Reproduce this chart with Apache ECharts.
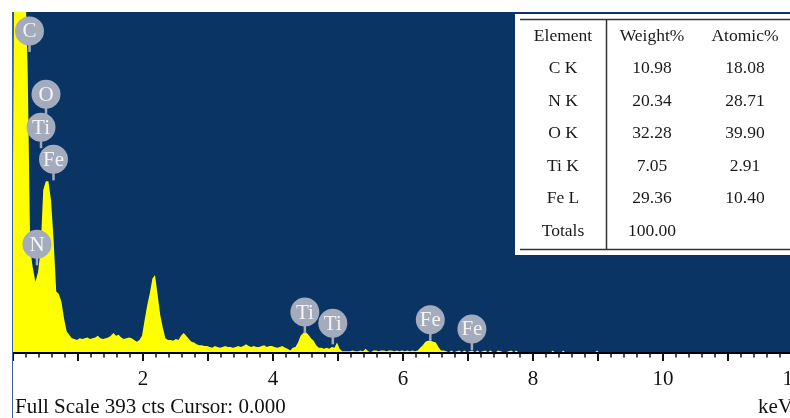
<!DOCTYPE html>
<html>
<head>
<meta charset="utf-8">
<script src="https://cdn.jsdelivr.net/npm/echarts@6/dist/echarts.min.js"></script>
<style>
  html, body { margin: 0; padding: 0; background: #fff; }
  #chart { width: 790px; height: 418px; }
</style>
</head>
<body>
<div id="chart"></div>
<script>
// EDS spectrum: counts per 0.04 keV channel, first channel at -0.015 keV
const channelStart = -0.015;
const channelWidth = 0.04;
const counts = [
  0, 560, 820, 940, 760, 440, 330, 120, 98, 82,
  93, 119, 188, 198, 198, 176, 130, 71, 68, 59,
  40, 25, 21, 17, 16, 15, 17, 16, 17, 18,
  16, 17, 18, 20, 17, 16, 17, 18, 20, 23,
  20, 21, 18, 16, 17, 18, 17, 15, 13, 15,
  20, 38, 55, 69, 86, 90, 67, 44, 29, 17,
  15, 15, 14, 16, 15, 20, 23, 20, 16, 13,
  12, 10, 9, 9, 8, 8, 7, 6, 8, 7,
  6, 7, 8, 7, 7, 6, 7, 8, 7, 8,
  10, 8, 7, 8, 7, 7, 8, 9, 7, 8,
  8, 7, 6, 7, 8, 6, 5, 3, 6, 7,
  12, 20, 23, 24, 21, 17, 14, 9, 6, 6,
  5, 6, 5, 7, 6, 12, 5, 2, 2, 2,
  2, 3, 2, 2, 3, 2, 5, 2, 1, 3,
  3, 2, 3, 3, 2, 3, 3, 2, 3, 2,
  3, 2, 3, 2, 3, 2, 3, 6, 9, 13,
  14, 14, 13, 12, 7, 3, 3, 2, 1, 3,
  1, 2, 3, 1, 3, 1, 2, 3, 1, 3,
  1, 2, 3, 1, 3, 1, 1, 3, 2, 1,
  1, 2, 3, 1, 3, 0, 0, 0, 0, 0,
  0, 0, 0, 0, 0, 0, 0, 0, 3, 0,
  0, 0, 3, 0, 0, 0, 0, 0, 0, 0,
  0, 0, 0, 0, 0, 3, 0, 0, 0, 0,
  0
];
const fullScale = 393;

// Element line markers: energy (keV), marker foot height (counts), symbol
const markerEnergy = [0.254, 0.508, 0.431, 0.623, 0.369, 4.49, 4.92, 6.42, 7.06];
const markerHeight = [347, 274, 236, 199, 101, 23, 10, 14, 3.5];
const markerLabel  = ['C', 'O', 'Ti', 'Fe', 'N', 'Ti', 'Ti', 'Fe', 'Fe'];

// Axis labels
const labelledTicks = [2, 4, 6, 8, 10, 12];
const footerText = 'Full Scale 393 cts Cursor: 0.000';
const unitText = 'keV';

// Quantification table
const tableHeader = ['Element', 'Weight%', 'Atomic%'];
const tableElement = ['C K', 'N K', 'O K', 'Ti K', 'Fe L', 'Totals'];
const tableWeight = ['10.98', '20.34', '32.28', '7.05', '29.36', '100.00'];
const tableAtomic = ['18.08', '28.71', '39.90', '2.91', '10.40', ''];

const serif = '"Liberation Serif", "DejaVu Serif", serif';
const markerColor = '#a3abbd';

const spectrum = counts.map((c, i) => [+(channelStart + i * channelWidth).toFixed(3), c]);
const markers = markerEnergy.map((e, i) => [e, markerHeight[i]]);

// table graphic elements
const colX = [563, 652, 745];
const rowY0 = 36, rowStep = 32.5;
const tableChildren = [
  { type: 'rect', shape: { x: 515, y: 14, width: 290, height: 241 }, style: { fill: '#ffffff' } },
  { type: 'line', shape: { x1: 520, y1: 19.5, x2: 800, y2: 19.5 }, style: { stroke: '#333', lineWidth: 1.5 } },
  { type: 'line', shape: { x1: 520, y1: 249.5, x2: 800, y2: 249.5 }, style: { stroke: '#333', lineWidth: 1.5 } },
  { type: 'line', shape: { x1: 606.5, y1: 19.5, x2: 606.5, y2: 249.5 }, style: { stroke: '#333', lineWidth: 1.5 } }
];
function cell(text, col, row) {
  tableChildren.push({
    type: 'text', x: colX[col], y: rowY0 + row * rowStep,
    style: { text: text, fill: '#1a1a1a', font: '17.5px ' + serif, align: 'center', verticalAlign: 'middle' }
  });
}
tableHeader.forEach((t, c) => cell(t, c, 0));
tableElement.forEach((t, r) => {
  cell(t, 0, r + 1);
  cell(tableWeight[r], 1, r + 1);
  if (tableAtomic[r]) cell(tableAtomic[r], 2, r + 1);
});

const chart = echarts.init(document.getElementById('chart'), null, { renderer: 'canvas' });
chart.setOption({
  animation: false,
  backgroundColor: '#ffffff',
  grid: {
    left: 13, top: 12, width: 780, height: 341,
    containLabel: false, outerBoundsMode: 'none',
    show: true, backgroundColor: '#093463', borderWidth: 0
  },
  xAxis: {
    type: 'value', min: 0, max: 12, interval: 1, z: 5,
    axisLine: { show: true, onZero: false, lineStyle: { color: '#000', width: 2 } },
    axisTick: { show: true, length: 8, lineStyle: { color: '#111', width: 2 } },
    minorTick: { show: true, splitNumber: 5, length: 4.5, lineStyle: { color: '#111', width: 1.5 } },
    splitLine: { show: false },
    minorSplitLine: { show: false },
    axisLabel: {
      margin: 16, fontFamily: serif, fontSize: 21, color: '#111',
      showMaxLabel: true, showMinLabel: false, hideOverlap: false,
      formatter: v => labelledTicks.includes(v) ? String(v) : ''
    }
  },
  yAxis: { type: 'value', min: 0, max: fullScale, show: false, splitLine: { show: false } },
  series: [
    {
      type: 'line', data: spectrum, showSymbol: false, smooth: false,
      lineStyle: { width: 0 },
      areaStyle: { color: '#ffff00', opacity: 1 },
      clip: true, z: 2
    },
    {
      type: 'custom', data: markers, z: 10, clip: false,
      renderItem: function (params, api) {
        const p = api.coord([api.value(0), api.value(1)]);
        const cy = p[1] - 21;
        return {
          type: 'group',
          children: [
            { type: 'line', shape: { x1: p[0], y1: p[1], x2: p[0], y2: cy }, style: { stroke: markerColor, lineWidth: 2.5 } },
            { type: 'circle', shape: { cx: p[0], cy: cy, r: 14.5 }, style: { fill: markerColor } },
            { type: 'text', x: p[0], y: cy + 1, style: { text: markerLabel[params.dataIndex], fill: '#f4f4f4', font: '21px ' + serif, align: 'center', verticalAlign: 'middle' } }
          ]
        };
      }
    }
  ],
  graphic: [
    { type: 'line', shape: { x1: 12.5, y1: 12, x2: 12.5, y2: 418 }, style: { stroke: '#3f5f96', lineWidth: 1 }, z: 20 },
    { type: 'group', children: tableChildren, z: 30 },
    { type: 'text', x: 15, y: 407, style: { text: footerText, fill: '#111', font: '21px ' + serif, verticalAlign: 'middle', align: 'left' } },
    { type: 'text', x: 758, y: 407, style: { text: unitText, fill: '#111', font: '21px ' + serif, verticalAlign: 'middle', align: 'left' } }
  ]
});
</script>
</body>
</html>
